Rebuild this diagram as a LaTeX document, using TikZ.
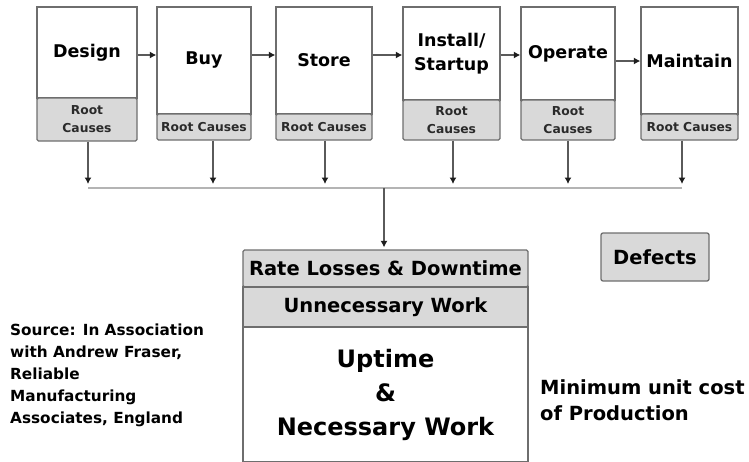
\documentclass[tikz,border=0pt]{standalone}
\usepackage{fontspec}
\setmainfont{DejaVu Sans}
\usetikzlibrary{arrows.meta,calc}
\definecolor{boxgrey}{HTML}{D9D9D9}
\definecolor{edge}{HTML}{6E6E6E}
\definecolor{wire}{HTML}{5A5A5A}
\definecolor{tipcol}{HTML}{1E1E1E}
\definecolor{busgrey}{HTML}{B4B4B4}
\definecolor{smalltext}{HTML}{2A2A2A}

\begin{document}
\begin{tikzpicture}[x=1pt,y=-1pt,
  stage/.style={draw=edge,line width=1.3pt,fill=white,inner sep=0pt,
    font=\fontsize{17.5}{24}\selectfont\bfseries,align=center},
  cause/.style={draw=edge,line width=1.3pt,fill=boxgrey,inner sep=0pt,text=smalltext,
    rounded corners=1.5pt,font=\fontsize{12.3}{18}\selectfont\bfseries,align=center},
  band/.style={draw=edge,line width=1.3pt,fill=boxgrey,inner sep=0pt,
    minimum width=285,font=\fontsize{19.5}{22}\selectfont\bfseries},
  flow/.style={draw=wire,line width=1.2pt,-{Latex[length=6.5pt,width=7pt,color=tipcol]}},
  busline/.style={draw=busgrey,line width=2.4pt},
  note/.style={inner sep=0pt,align=left,font=\bfseries}
]
\useasboundingbox (0,0) rectangle (749,461);

% life-cycle stages with their root-cause boxes
\node[stage,minimum width=100,minimum height=91]  (d) at (87,52.5)   {Design};
\node[cause,minimum width=100,minimum height=43]  (dr) at (87,119.5) {Root\\Causes};
\node[stage,minimum width=94,minimum height=107]  (b) at (204,60.5)  {Buy};
\node[cause,minimum width=94,minimum height=26]   (br) at (204,127)  {Root Causes};
\node[stage,minimum width=96,minimum height=107]  (s) at (324,60.5)  {Store};
\node[cause,minimum width=96,minimum height=26]   (sr) at (324,127)  {Root Causes};
\node[stage,minimum width=97,minimum height=93]   (i) at (451.5,53.5) {Install/\\Startup};
\node[cause,minimum width=97,minimum height=40]   (ir) at (451.5,120) {Root\\Causes};
\node[stage,minimum width=94,minimum height=93]   (o) at (568,53.5)  {Operate};
\node[cause,minimum width=94,minimum height=40]   (or) at (568,120)  {Root\\Causes};
\node[stage,minimum width=97,minimum height=107]  (m) at (689.5,60.5) {Maintain};
\node[cause,minimum width=97,minimum height=26]   (mr) at (689.5,127) {Root Causes};

% arrows along the chain
\draw[flow] (d.east |- 0,55) -- (b.west |- 0,55);
\draw[flow] (b.east |- 0,55) -- (s.west |- 0,55);
\draw[flow] (s.east |- 0,55) -- (i.west |- 0,55);
\draw[flow] (i.east |- 0,55) -- (o.west |- 0,55);
\draw[flow] (o.east |- 0,61) -- (m.west |- 0,61);

% collecting bus
\coordinate (bus) at (0,188);
\coordinate (busL) at ([xshift=1pt]dr.south |- bus);
\coordinate (busR) at ([xshift=-7.5pt]mr.south |- bus);
\draw[busline] (busL) -- (busR);
\begin{scope}[flow/.append style={shorten >=4pt}]
\draw[flow] ([xshift=1pt]dr.south)    -- ([xshift=1pt]dr.south |- bus);
\draw[flow] ([xshift=9pt]br.south)    -- ([xshift=9pt]br.south |- bus);
\draw[flow] ([xshift=1pt]sr.south)    -- ([xshift=1pt]sr.south |- bus);
\draw[flow] ([xshift=1.5pt]ir.south)  -- ([xshift=1.5pt]ir.south |- bus);
\draw[flow] (or.south)                -- (or.south |- bus);
\draw[flow] ([xshift=-7.5pt]mr.south) -- ([xshift=-7.5pt]mr.south |- bus);
\end{scope}

% stacked result boxes
\node[band,minimum height=37,rounded corners=1.5pt] (rate) at (385.5,268.5) {Rate Losses \& Downtime};
\node[band,minimum height=40] (unn) at (385.5,307) {Unnecessary Work};
\node[draw=edge,line width=1.3pt,fill=white,inner sep=0pt,minimum width=285,minimum height=135,
  align=center,font=\fontsize{24}{34}\selectfont\bfseries] (up) at (385.5,394.5) {Uptime\\\&\\Necessary Work};

\coordinate (drop) at (384,188);
\draw[flow,shorten >=2pt] (drop) -- (drop |- rate.north);

\node[band,minimum width=108,minimum height=48,rounded corners=2pt] (def) at (655,257) {Defects};

\node[note,anchor=north west,font=\fontsize{15.3}{22}\selectfont\bfseries] (src) at (10,324)
  {Source: In Association\\with Andrew Fraser,\\Reliable\\Manufacturing\\Associates, England};
\node[note,anchor=west,font=\fontsize{19.5}{26}\selectfont\bfseries] (cost) at (540,400)
  {Minimum unit cost\\of Production};
\end{tikzpicture}
\end{document}
